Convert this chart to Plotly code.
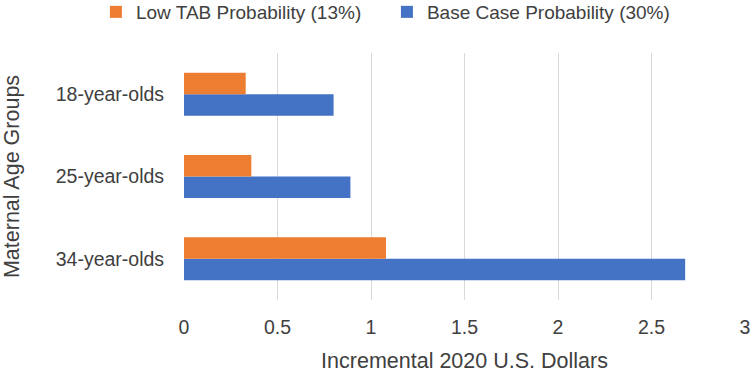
import plotly.graph_objects as go

categories = ["18-year-olds", "25-year-olds", "34-year-olds"]
low_tab = [0.33, 0.36, 1.08]
base_case = [0.80, 0.89, 2.68]
series_names = ["Low TAB Probability (13%)", "Base Case Probability (30%)"]
x_ticks = [0, 0.5, 1, 1.5, 2, 2.5, 3]
x_tick_labels = ["0", "0.5", "1", "1.5", "2", "2.5", "3"]

FONT = "Liberation Sans"
TXT = "#404040"

fig = go.Figure()
fig.add_trace(go.Bar(y=categories, x=base_case, name=series_names[1], orientation="h",
                     marker=dict(color="#4472C4", line=dict(width=0))))
fig.add_trace(go.Bar(y=categories, x=low_tab, name=series_names[0], orientation="h",
                     marker=dict(color="#ED7D31", line=dict(width=0))))

fig.update_layout(
    width=750, height=373,
    margin=dict(l=184, r=5, t=53, b=73, autoexpand=False),
    paper_bgcolor="white", plot_bgcolor="white",
    barmode="group", bargap=0.477, bargroupgap=0,
    font=dict(family=FONT, color=TXT),
    legend=dict(orientation="h", traceorder="reversed", x=-0.157, xanchor="left",
                entrywidth=246, entrywidthmode="pixels",
                y=1 + 41 / 247, yanchor="middle", font=dict(size=19, color=TXT),
                bgcolor="rgba(0,0,0,0)"),
    xaxis=dict(range=[0, 3], tickvals=x_ticks, ticktext=x_tick_labels, automargin=False,
               ticklabeloverflow="allow",
               showgrid=True, gridcolor="#d9d9d9", gridwidth=1, zeroline=False,
               showline=False, ticks="outside", ticklen=10, tickcolor="rgba(0,0,0,0)",
               tickfont=dict(size=19.5, color=TXT),
               title=dict(text="Incremental 2020 U.S. Dollars", font=dict(size=21.5, color=TXT),
                          standoff=15)),
    yaxis=dict(categoryorder="array", categoryarray=categories[::-1], automargin=False,
               showgrid=False, zeroline=False, showline=False,
               ticks="outside", ticklen=15, tickcolor="rgba(0,0,0,0)",
               tickfont=dict(size=19.5, color=TXT),
               title=dict(text="Maternal Age Groups", font=dict(size=21.5, color=TXT),
                          standoff=31)),
)

fig.write_html("out.html", config={"displayModeBar": False},
               post_script="document.body.style.margin='0';document.body.style.overflow='hidden';")
